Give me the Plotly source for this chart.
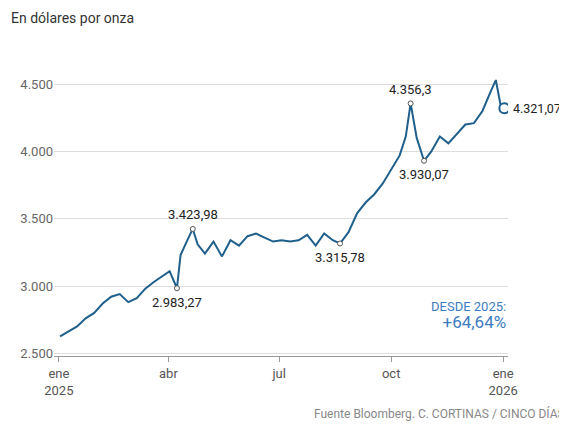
import plotly.graph_objects as go

dates = ["2025-01-02","2025-01-09","2025-01-16","2025-01-23","2025-01-30","2025-02-06","2025-02-13","2025-02-20","2025-02-27",
"2025-03-06","2025-03-13","2025-03-20","2025-03-27","2025-04-02","2025-04-08","2025-04-11","2025-04-16","2025-04-21","2025-04-25",
"2025-05-01","2025-05-08","2025-05-15","2025-05-22","2025-05-29","2025-06-05","2025-06-12","2025-06-19","2025-06-26","2025-07-03",
"2025-07-10","2025-07-17","2025-07-24","2025-07-31","2025-08-07","2025-08-14","2025-08-20","2025-08-27","2025-09-03","2025-09-10",
"2025-09-17","2025-09-24","2025-10-01","2025-10-08","2025-10-13","2025-10-17","2025-10-22","2025-10-28","2025-11-03","2025-11-10",
"2025-11-17","2025-11-24","2025-12-01","2025-12-08","2025-12-15","2025-12-22","2025-12-26","2025-12-30","2026-01-02"]
prices = [2625,2665,2700,2760,2800,2870,2920,2940,2880,
2910,2980,3030,3070,3110,2983.27,3230,3330,3423.98,3310,
3240,3330,3220,3340,3300,3370,3390,3360,3330,3340,
3330,3340,3380,3300,3390,3340,3315.78,3400,3540,3620,
3680,3760,3860,3970,4110,4356.3,4100,3930.07,4000,4110,
4060,4130,4200,4210,4300,4450,4530,4340,4321.07]
y_ticks = [2500,3000,3500,4000,4500]
y_labels = ["2.500","3.000","3.500","4.000","4.500"]
x_ticks = ["2025-01-01","2025-04-01","2025-07-01","2025-10-01","2026-01-01"]
x_labels = ["ene<br>2025","abr","jul","oct","ene<br>2026"]
annots = [("2025-04-08",2983.27,"2.983,27","below"),("2025-04-21",3423.98,"3.423,98","above"),
("2025-08-20",3315.78,"3.315,78","below"),("2025-10-17",4356.3,"4.356,3","above"),("2025-10-28",3930.07,"3.930,07","below")]

blue = "#1f5f8b"
fig = go.Figure()
fig.add_trace(go.Scatter(x=dates, y=prices, mode="lines", line=dict(color=blue, width=2), hoverinfo="skip"))
fig.add_trace(go.Scatter(x=[a[0] for a in annots], y=[a[1] for a in annots], mode="markers",
    marker=dict(size=5, color="white", line=dict(color="#555", width=1))))
fig.add_trace(go.Scatter(x=[dates[-1]], y=[prices[-1]], mode="markers",
    marker=dict(size=10, color="white", line=dict(color=blue, width=2))))
for d, v, t, pos in annots:
    fig.add_annotation(x=d, y=v, text=t, showarrow=False, yshift=(14 if pos=="above" else -14),
                       font=dict(size=13, color="#222"))
fig.add_annotation(x=dates[-1], y=prices[-1], text="4.321,07", showarrow=False, xanchor="left", xshift=7,
                   font=dict(size=12.5, color="#222"))
fig.add_annotation(x=1.0, y=0.08, xref="paper", yref="paper", xanchor="right", yanchor="bottom", showarrow=False, align="right",
                   text="DESDE 2025:<br><span style='font-size:17px'>+64,64%</span>", font=dict(size=13, color="#3d7cc0"))
fig.add_annotation(x=1.13, y=-0.24, xref="paper", yref="paper", xanchor="right", showarrow=False,
                   text="Fuente Bloomberg. C. CORTINAS / CINCO DÍAS", font=dict(size=12, color="#888"))
fig.add_annotation(x=-0.1, y=1.25, xref="paper", yref="paper", xanchor="left", yanchor="bottom", showarrow=False,
                   text="<b>Precio del oro desde 2025</b>", font=dict(size=19, color="#111"))
fig.add_annotation(x=-0.1, y=1.17, xref="paper", yref="paper", xanchor="left", yanchor="bottom", showarrow=False,
                   text="En dólares por onza", font=dict(size=14, color="#333"))
fig.update_layout(width=567, height=432, margin=dict(l=46, r=67, t=68, b=84),
    plot_bgcolor="white", paper_bgcolor="white", showlegend=False, font=dict(family="Roboto"),
    xaxis=dict(tickvals=x_ticks, ticktext=x_labels, range=["2024-12-28","2026-01-05"], showgrid=False,
               ticks="outside", ticklen=5, tickcolor="#999", showline=True, linecolor="#999",
               tickfont=dict(size=13, color="#555")),
    yaxis=dict(tickvals=y_ticks, ticktext=y_labels, range=[2480,4560], gridcolor="#ddd",
               tickfont=dict(size=13, color="#666"), zeroline=False))
fig.write_html("out.html")
